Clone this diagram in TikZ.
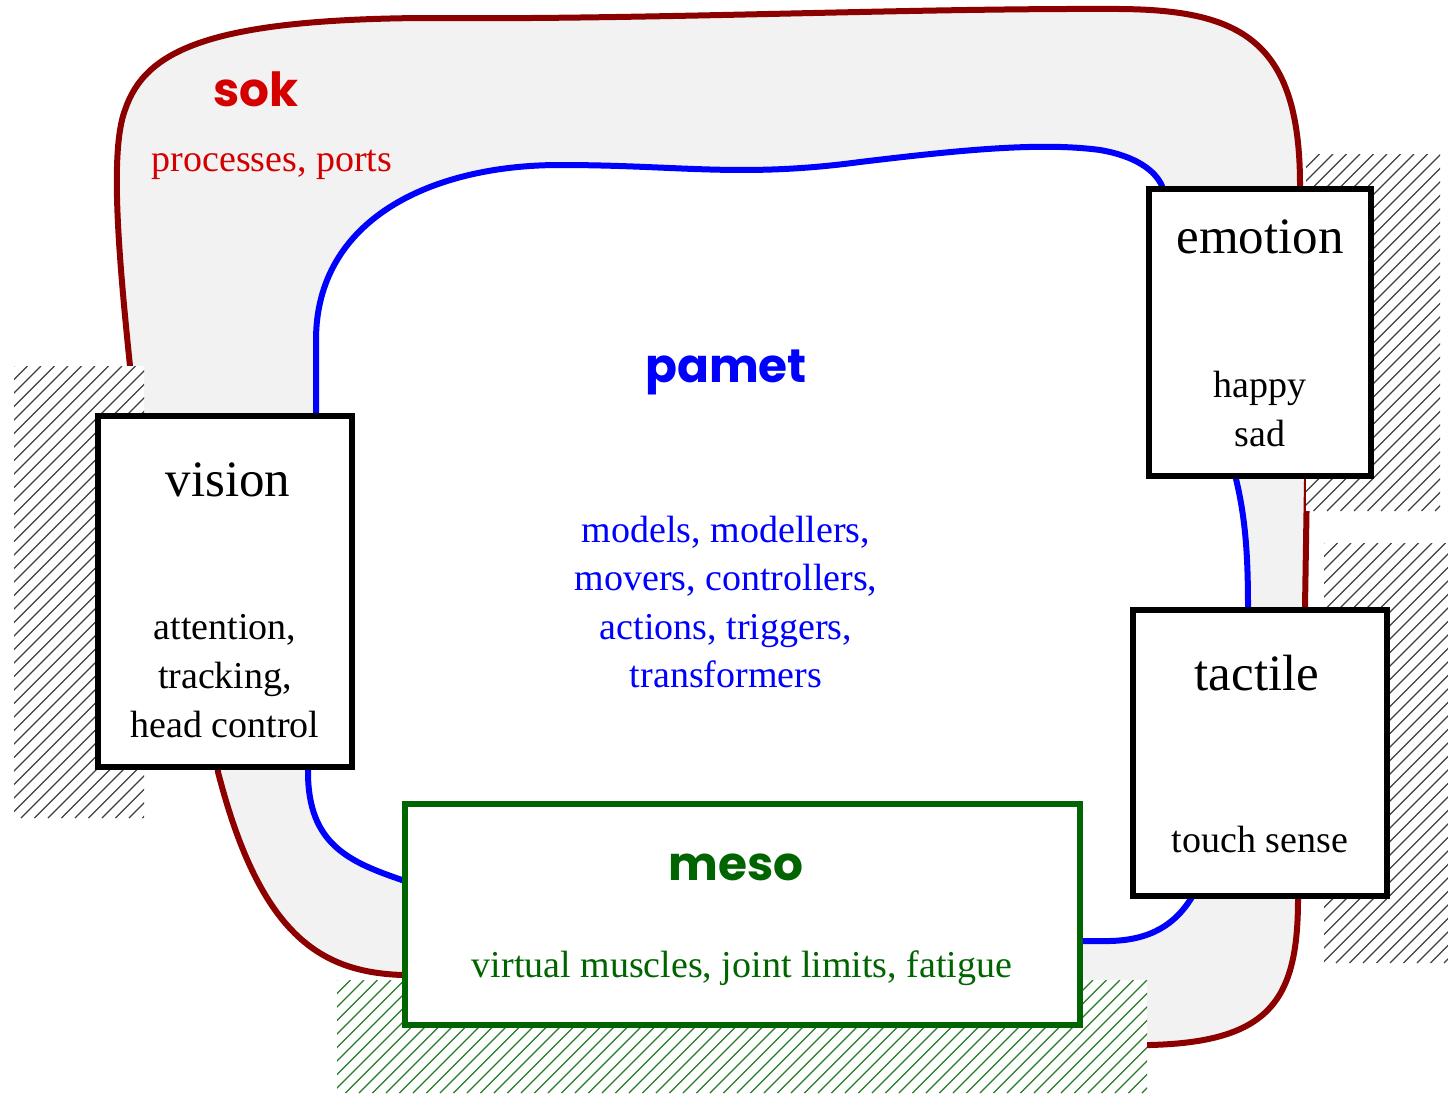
\documentclass[tikz,border=0pt]{standalone}
\usepackage{fontspec}
\setmainfont{Liberation Serif}
\newfontfamily\headfont{Poppins}
\definecolor{sokred}{RGB}{140,0,0}
\definecolor{soktext}{RGB}{212,0,0}
\definecolor{mesogreen}{RGB}{0,100,0}
\definecolor{zonegray}{RGB}{242,242,242}

% hatched zone: x1, y1, x2, y2, line colour
\newcommand\hatchzone[5]{%
  \fill[white] (#1,#2) rectangle (#3,#4);
  \begin{scope}
    \clip (#1,#2) rectangle (#3,#4);
    \foreach \k in {0,...,100}
      \draw[#5, line width=1.3pt]
        ({#1-(#4-#2)+13.5*\k},#4) -- ++({#4-#2},{-(#4-#2)});
  \end{scope}}

\tikzset{
  box/.style={draw=black, line width=6.5pt, fill=white, rectangle, inner sep=0pt},
  body/.style={font=\fontsize{38}{48}\selectfont, anchor=base, inner sep=0pt},
  title/.style={font=\fontsize{51}{60}\selectfont, anchor=base, inner sep=0pt},
  head/.style={font=\headfont\bfseries\fontsize{47}{56}\selectfont, anchor=base, inner sep=0pt},
  sokline/.style={draw=sokred, line width=6pt},
  pametline/.style={draw=blue, line width=6pt},
}

\begin{document}
\begin{tikzpicture}[x=1pt, y=-1pt]
\useasboundingbox (0,0) rectangle (1448,1093);

% outer "sok" region
\def\sokpath{(130,366) .. controls (118,250) and (110,150) .. (125,110)
  .. controls (145,50) and (210,20) .. (420,18)
  .. controls (650,20) and (900,8) .. (1120,9)
  .. controls (1240,10) and (1300,40) .. (1300,185)
  -- (1307,480) -- (1305,607) -- (1298,899)
  .. controls (1298,1000) and (1270,1042) .. (1150,1045)
  -- (1000,1045) -- (520,1000) -- (402,975)
  .. controls (320,972) and (260,935) .. (218,772)
  -- (200,500) -- (135,420) -- cycle}
% inner "pamet" region
\def\pametpath{(316,413) -- (316,340)
  .. controls (316,220) and (430,165) .. (560,165)
  .. controls (680,165) and (740,178) .. (860,162)
  .. controls (960,150) and (1040,142) .. (1100,150)
  .. controls (1135,156) and (1155,170) .. (1162,186)
  -- (1236,479)
  .. controls (1246,520) and (1248,560) .. (1248,607)
  -- (1192,897)
  .. controls (1175,925) and (1150,940) .. (1110,941)
  -- (1083,941) -- (402,880)
  .. controls (350,862) and (308,845) .. (308,772) -- cycle}

\fill[zonegray] \sokpath;
\fill[white] \pametpath;
\path[sokline] \sokpath;
\path[pametline] \pametpath;

% hatched external zones
\hatchzone{14}{366}{144}{818}{black!75}
\hatchzone{1306}{154}{1440}{511}{black!75}
\hatchzone{1324}{543}{1448}{963}{black!75}
\hatchzone{337}{980}{1147}{1093}{mesogreen!85}

% components
\node[box, minimum width=254pt, minimum height=351pt] (vision) at (225,591.5) {};
\node[box, minimum width=222pt, minimum height=287pt] (emotion) at (1260,332.5) {};
\node[box, minimum width=254pt, minimum height=286pt] (tactile) at (1260,753) {};
\node[box, draw=mesogreen, minimum width=675pt, minimum height=221pt] (meso) at (742.5,914.5) {};

% labels
\node[head, text=soktext] (sokT) at (256,106) {sok};
\node[body, text=soktext] (sokD) at (272,171) {processes, ports};

\node[head, text=blue] (pametT) at (726,382) {pamet};
\node[body, text=blue] (pametA) at (726,542) {models, modellers,};
\node[body, text=blue] (pametB) at (726,590.5) {movers, controllers,};
\node[body, text=blue] (pametC) at (726,639) {actions, triggers,};
\node[body, text=blue] (pametD) at (726,687.5) {transformers};

\node[title] (visionT) at (228,496) {vision};
\node[body] (visionA) at (225,639) {attention,};
\node[body] (visionB) at (225,688) {tracking,};
\node[body] (visionC) at (225,737) {head control};

\node[title] (emotionT) at (1260,253) {emotion};
\node[body] (emotionA) at (1260,397) {happy};
\node[body] (emotionB) at (1260,446) {sad};

\node[title] (tactileT) at (1257,690) {tactile};
\node[body] (tactileA) at (1260,852) {touch sense};

\node[head, text=mesogreen] (mesoT) at (736,880) {meso};
\node[body, text=mesogreen] (mesoD) at (742,977) {virtual muscles, joint limits, fatigue};
\end{tikzpicture}
\end{document}
